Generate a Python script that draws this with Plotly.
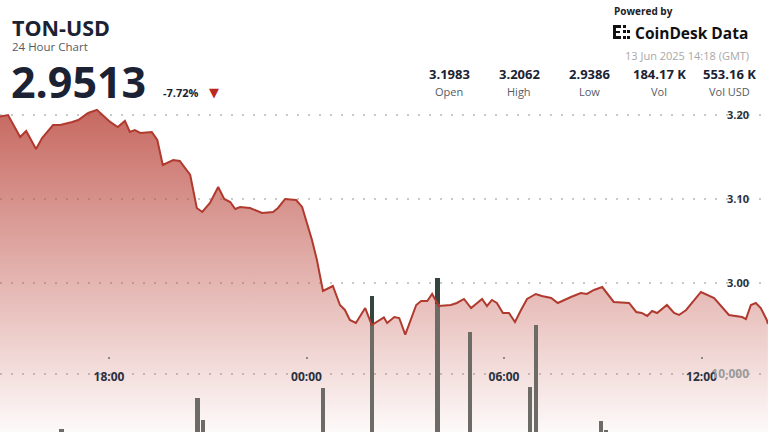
import numpy as np
import pandas as pd
import plotly.graph_objects as go

# ---------------- data ----------------
price_times = [
    "2025-06-12 14:41", "2025-06-12 14:56", "2025-06-12 15:18", "2025-06-12 15:29", "2025-06-12 15:47",
    "2025-06-12 15:58", "2025-06-12 16:18", "2025-06-12 16:31", "2025-06-12 16:53", "2025-06-12 17:04",
    "2025-06-12 17:22", "2025-06-12 17:38", "2025-06-12 18:02", "2025-06-12 18:16", "2025-06-12 18:29",
    "2025-06-12 18:38", "2025-06-12 18:47", "2025-06-12 18:57", "2025-06-12 19:18", "2025-06-12 19:28",
    "2025-06-12 19:38", "2025-06-12 19:57", "2025-06-12 20:09", "2025-06-12 20:28", "2025-06-12 20:40",
    "2025-06-12 20:50", "2025-06-12 21:04", "2025-06-12 21:19", "2025-06-12 21:30", "2025-06-12 21:41",
    "2025-06-12 21:50", "2025-06-12 21:59", "2025-06-12 22:17", "2025-06-12 22:39", "2025-06-12 22:59",
    "2025-06-12 23:08", "2025-06-12 23:21", "2025-06-12 23:41", "2025-06-12 23:52",
    "2025-06-13 00:10", "2025-06-13 00:19", "2025-06-13 00:30", "2025-06-13 00:48", "2025-06-13 01:01",
    "2025-06-13 01:10", "2025-06-13 01:19", "2025-06-13 01:30", "2025-06-13 01:47", "2025-06-13 01:59",
    "2025-06-13 02:21", "2025-06-13 02:27", "2025-06-13 02:40", "2025-06-13 02:49", "2025-06-13 03:00",
    "2025-06-13 03:20", "2025-06-13 03:29", "2025-06-13 03:40", "2025-06-13 03:49", "2025-06-13 04:01",
    "2025-06-13 04:23", "2025-06-13 04:34", "2025-06-13 04:47", "2025-06-13 05:00", "2025-06-13 05:20",
    "2025-06-13 05:29", "2025-06-13 05:38", "2025-06-13 05:47", "2025-06-13 05:58", "2025-06-13 06:09",
    "2025-06-13 06:20", "2025-06-13 06:31", "2025-06-13 06:42", "2025-06-13 06:58", "2025-06-13 07:09",
    "2025-06-13 07:26", "2025-06-13 07:38", "2025-06-13 08:02", "2025-06-13 08:20", "2025-06-13 08:31",
    "2025-06-13 08:44", "2025-06-13 08:59", "2025-06-13 09:20", "2025-06-13 09:48", "2025-06-13 10:01",
    "2025-06-13 10:11", "2025-06-13 10:21", "2025-06-13 10:30", "2025-06-13 10:39", "2025-06-13 10:57",
    "2025-06-13 11:10", "2025-06-13 11:19", "2025-06-13 11:32", "2025-06-13 11:59", "2025-06-13 12:23",
    "2025-06-13 12:50", "2025-06-13 13:14", "2025-06-13 13:21", "2025-06-13 13:30", "2025-06-13 13:39",
    "2025-06-13 13:48", "2025-06-13 13:59", "2025-06-13 14:01",
]
price_values = [
    3.1983, 3.2000, 3.1738, 3.1810, 3.1595, 3.1726, 3.1881, 3.1881, 3.1917, 3.1940,
    3.2024, 3.2062, 3.1917, 3.1857, 3.1929, 3.1798, 3.1821, 3.1786, 3.1798, 3.1702,
    3.1405, 3.1464, 3.1452, 3.1286, 3.0893, 3.0845, 3.0952, 3.1143, 3.1000, 3.0964,
    3.0881, 3.0905, 3.0893, 3.0833, 3.0845, 3.0893, 3.1000, 3.0988, 3.0905,
    3.0512, 3.0274, 2.9905, 2.9964, 2.9738, 2.9679, 2.9560, 2.9524, 2.9702, 2.9500,
    2.9590, 2.9524, 2.9595, 2.9583, 2.9386, 2.9738, 2.9786, 2.9786, 2.9869, 2.9726,
    2.9738, 2.9762, 2.9810, 2.9702, 2.9810, 2.9726, 2.9798, 2.9762, 2.9643, 2.9643,
    2.9536, 2.9679, 2.9810, 2.9869, 2.9845, 2.9821, 2.9762, 2.9833, 2.9881, 2.9869,
    2.9917, 2.9952, 2.9774, 2.9762, 2.9655, 2.9643, 2.9607, 2.9667, 2.9643, 2.9738,
    2.9643, 2.9619, 2.9679, 2.9893, 2.9821, 2.9619, 2.9595, 2.9571, 2.9738, 2.9762,
    2.9702, 2.9560, 2.9513,
]

volume_times = [
    "2025-06-12 16:33", "2025-06-12 20:41", "2025-06-12 20:51", "2025-06-13 00:30",
    "2025-06-13 01:59", "2025-06-13 03:59", "2025-06-13 04:58", "2025-06-13 06:47",
    "2025-06-13 06:58", "2025-06-13 08:57", "2025-06-13 09:06",
]
volume_values = [470, 5900, 2070, 7640, 23450, 26550, 17290, 7810, 18450, 1900, 350]

x_tick_vals = ["2025-06-12 18:00", "2025-06-13 00:00", "2025-06-13 06:00", "2025-06-13 12:00"]
x_tick_text = ["18:00", "00:00", "06:00", "12:00"]
price_ticks = [3.00, 3.10, 3.20]
volume_ticks = [10000]
volume_tick_text = ["10,000"]

stat_values = ["3.1983", "3.2062", "2.9386", "184.17 K", "553.16 K"]
stat_labels = ["Open", "High", "Low", "Vol", "Vol USD"]

# ---------------- figure ----------------
W, H = 768, 432
FONT = "Open Sans"
DARK = "#1b2233"
PRICE_RANGE = [2.8226, 3.3369]
VOL_RANGE = [0, 74483]


def px(x):
    return x / W


def py(y):
    return 1 - y / H


# part of each volume bar that lies under the price area (drawn lighter, as in the source)
pt = pd.to_datetime(pd.Series(price_times)).astype("int64").to_numpy()
vt = pd.to_datetime(pd.Series(volume_times)).astype("int64").to_numpy()
price_at_bar = np.interp(vt, pt, price_values)
line_in_vol_units = (price_at_bar - PRICE_RANGE[0]) / (PRICE_RANGE[1] - PRICE_RANGE[0]) * VOL_RANGE[1]
shaded_part = np.minimum(np.array(volume_values, dtype=float), line_in_vol_units)

bar_w = 8.2 * 60 * 1000

fig = go.Figure()

# price area (base layer)
fig.add_trace(go.Scatter(
    x=price_times, y=price_values, yaxis="y", xaxis="x",
    mode="lines", line=dict(width=0, color="rgba(0,0,0,0)"),
    fill="tozeroy",
    fillgradient=dict(
        type="vertical", start=PRICE_RANGE[0], stop=3.21,
        colorscale=[[0, "rgba(190,75,65,0.03)"], [0.45, "rgba(190,75,65,0.40)"],
                    [1, "rgba(185,70,60,0.82)"]],
    ),
    hoverinfo="skip",
))

# volume bars (overlay layer)
fig.add_trace(go.Bar(
    x=volume_times, y=volume_values, yaxis="y2", xaxis="x",
    marker=dict(color="#34453d", line=dict(width=0)),
    width=bar_w, hoverinfo="skip",
))
fig.add_trace(go.Bar(
    x=volume_times, y=shaded_part, yaxis="y2", xaxis="x",
    marker=dict(color="#6d6b66", line=dict(width=0)),
    width=bar_w, hoverinfo="skip",
))

# price line (top layer)
fig.add_trace(go.Scatter(
    x=price_times, y=price_values, yaxis="y3", xaxis="x",
    mode="lines", line=dict(color="#b13a2f", width=2),
    hoverinfo="skip",
))

grid_dash = "2px,9px"
fig.update_layout(
    width=W, height=H, autosize=False,
    margin=dict(l=0, r=0, t=0, b=0, pad=0, autoexpand=False),
    paper_bgcolor="white", plot_bgcolor="white",
    showlegend=False, hovermode=False,
    barmode="overlay", bargap=0,
    xaxis=dict(
        type="date", domain=[0, 1],
        range=["2025-06-12 14:41:18", "2025-06-13 14:01:12"],
        tickvals=x_tick_vals, ticktext=x_tick_text,
        anchor="free", position=py(356),
        showgrid=False, zeroline=False, showline=False,
        ticks="outside", ticklen=2, tickwidth=2, tickcolor="#8a8a8a",
        ticklabelstandoff=8,
        tickfont=dict(family=FONT, size=12, color="#2a3140", weight="bold"),
    ),
    yaxis=dict(
        domain=[0, 1], range=PRICE_RANGE,
        tickvals=price_ticks, tickformat=".2f",
        side="right", ticklabelposition="inside", ticks="",
        ticklabelstandoff=16,
        showgrid=True, gridcolor="#c9c9c9", gridwidth=2, griddash=grid_dash,
        zeroline=False, showline=False,
        tickfont=dict(family=FONT, size=11, color="#2a3140", weight="bold"),
    ),
    yaxis2=dict(
        overlaying="y", range=VOL_RANGE,
        tickvals=volume_ticks, ticktext=volume_tick_text,
        side="right", ticklabelposition="inside", ticks="",
        ticklabelstandoff=16,
        showgrid=True, gridcolor="#c9c9c9", gridwidth=2, griddash=grid_dash,
        zeroline=False, showline=False,
        tickfont=dict(family=FONT, size=12, color="#9a9a9a", weight="bold"),
    ),
    yaxis3=dict(
        overlaying="y", range=PRICE_RANGE, side="right",
        showticklabels=False, showgrid=False, zeroline=False, showline=False, ticks="",
    ),
)

ann = []
ann.append(dict(text="<b>TON-USD</b>", x=px(10), y=py(27), xanchor="left", yanchor="middle",
                font=dict(family=FONT, size=21.5, color=DARK)))
ann.append(dict(text="24 Hour Chart", x=px(10), y=py(47), xanchor="left", yanchor="middle",
                font=dict(family=FONT, size=11.5, color="#555b66")))
ann.append(dict(text="<b>2.9513</b>", x=px(9), y=py(81), xanchor="left", yanchor="middle",
                font=dict(family=FONT, size=43, color=DARK)))
ann.append(dict(text="<b>-7.72%</b>", x=px(161), y=py(92), xanchor="left", yanchor="middle",
                font=dict(family=FONT, size=11, color=DARK)))
ann.append(dict(text="▼", x=px(214), y=py(92), xanchor="center", yanchor="middle",
                font=dict(family="DejaVu Sans", size=13, color="#b8281f")))
ann.append(dict(text="<b>Powered by</b>", x=px(612), y=py(11), xanchor="left", yanchor="middle",
                font=dict(family=FONT, size=10, color="#222")))
ann.append(dict(text="<b>CoinDesk Data</b>", x=px(633), y=py(33), xanchor="left", yanchor="middle",
                font=dict(family=FONT, size=15.5, color="#111")))
ann.append(dict(text="13 Jun 2025 14:18 (GMT)", x=px(751), y=py(55), xanchor="right", yanchor="middle",
                font=dict(family=FONT, size=11, color="#a8a8a8")))
stat_x = [449, 519, 589, 659, 729]
for sx, v, lab in zip(stat_x, stat_values, stat_labels):
    ann.append(dict(text=f"<b>{v}</b>", x=px(sx), y=py(74), xanchor="center", yanchor="middle",
                    font=dict(family=FONT, size=13, color=DARK)))
    ann.append(dict(text=lab, x=px(sx), y=py(91), xanchor="center", yanchor="middle",
                    font=dict(family=FONT, size=11, color="#555b66")))
for a in ann:
    a.update(xref="paper", yref="paper", showarrow=False)
fig.update_layout(annotations=ann)

# logo icon (decorative)
icon_rects = [
    (613, 25, 616, 39), (613, 25, 621, 28), (613, 36, 621, 39), (616, 31, 620, 33),
    (623, 25, 626, 28), (623, 30, 626, 33), (623, 36, 626, 39),
    (627, 30, 630, 33), (627, 36, 630, 39),
]
shapes = []
for x0, y0, x1, y1 in icon_rects:
    shapes.append(dict(type="rect", xref="paper", yref="paper",
                       x0=px(x0), x1=px(x1), y0=py(y1), y1=py(y0),
                       fillcolor="#111", line=dict(width=0)))
fig.update_layout(shapes=shapes)

fig.write_html(
    "out.html",
    config={"displayModeBar": False, "staticPlot": True},
    post_script="document.body.style.margin='0';document.body.style.padding='0';"
                "document.body.style.overflow='hidden';",
)
